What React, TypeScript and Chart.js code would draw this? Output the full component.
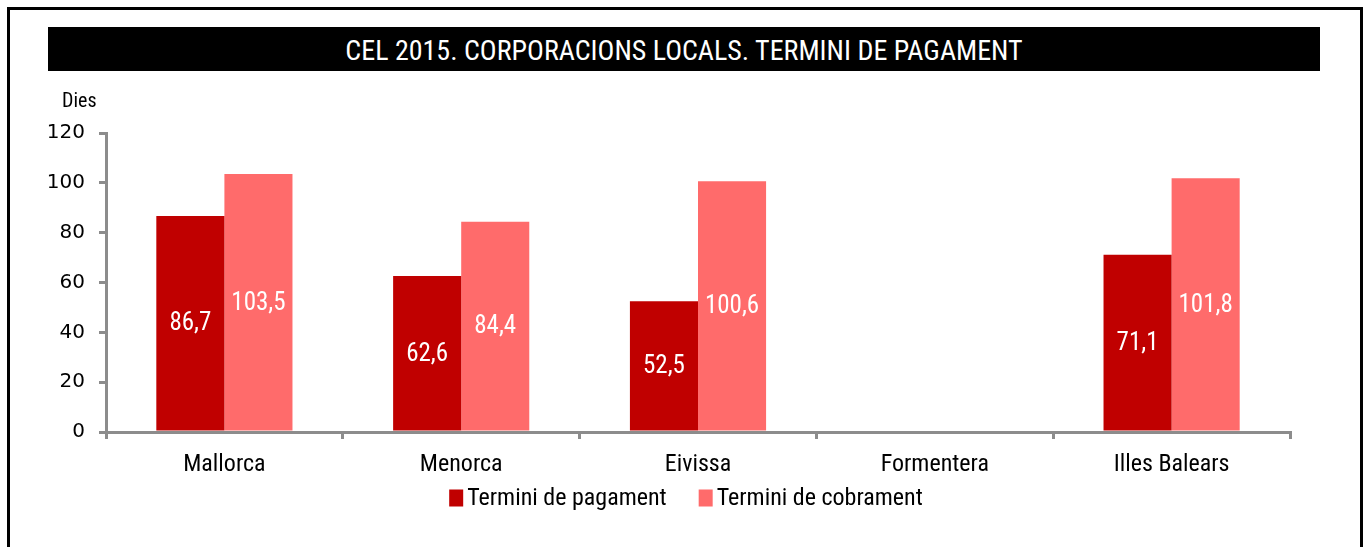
import React, { useEffect, useRef } from "react";
import { Chart, registerables } from "chart.js";

Chart.register(...registerables);

const categories = ["Mallorca", "Menorca", "Eivissa", "Formentera", "Illes Balears"];
const seriesNames = ["Termini de pagament", "Termini de cobrament"];
const pagament = [86.7, 62.6, 52.5, null, 71.1];
const cobrament = [103.5, 84.4, 100.6, null, 101.8];
const yTicks = [0, 20, 40, 60, 80, 100, 120];
const titleText = "CEL 2015. CORPORACIONS LOCALS. TERMINI DE PAGAMENT";
const yAxisTitle = "Dies";

const DARK = "#C00000";
const LIGHT = "#FF6B6B";
const AXIS = "#8C8C8C";
const NARROW = '"Liberation Sans Narrow", "Arial Narrow", "Roboto Condensed", sans-serif';

const valueLabels = {
  id: "valueLabels",
  afterDatasetsDraw(chart: any) {
    const ctx = chart.ctx;
    ctx.save();
    ctx.fillStyle = "#FFFFFF";
    ctx.font = `25px ${NARROW}`;
    ctx.textAlign = "center";
    ctx.textBaseline = "middle";
    chart.data.datasets.forEach((ds: any, di: number) => {
      const meta = chart.getDatasetMeta(di);
      meta.data.forEach((el: any, i: number) => {
        const v = ds.data[i];
        if (v === null || v === undefined) return;
        const { x, y, base } = el.getProps(["x", "y", "base"], true);
        ctx.fillText(v.toFixed(1).replace(".", ","), x, (y + base) / 2 + 1);
      });
    });
    ctx.restore();
  },
};

const customLegend = {
  id: "customLegend",
  afterDraw(chart: any) {
    const ctx = chart.ctx;
    ctx.save();
    ctx.font = `24px ${NARROW}`;
    ctx.textBaseline = "middle";
    ctx.textAlign = "left";
    const boxW = 14;
    const boxH = 17;
    const gapBox = 4;
    const gapItem = 32;
    const items = chart.data.datasets.map((ds: any) => ({
      label: ds.label,
      color: ds.backgroundColor,
      w: boxW + gapBox + ctx.measureText(ds.label).width,
    }));
    const total = items.reduce((s: number, it: any) => s + it.w, 0) + gapItem * (items.length - 1);
    let x = 686 - total / 2;
    const cy = 498;
    items.forEach((it: any) => {
      ctx.fillStyle = it.color;
      ctx.fillRect(x, cy - boxH / 2, boxW, boxH);
      ctx.fillStyle = "#000000";
      ctx.fillText(it.label, x + boxW + gapBox, cy + 1);
      x += it.w + gapItem;
    });
    ctx.restore();
  },
};

export default function App() {
  const canvasRef = useRef<HTMLCanvasElement | null>(null);

  useEffect(() => {
    document.body.style.margin = "0";
    const canvas = canvasRef.current;
    if (!canvas) return;
    const chart = new Chart(canvas, {
      type: "bar",
      data: {
        labels: categories,
        datasets: [
          {
            label: seriesNames[0],
            data: pagament,
            backgroundColor: DARK,
            borderWidth: 0,
          },
          {
            label: seriesNames[1],
            data: cobrament,
            backgroundColor: LIGHT,
            borderWidth: 0,
          },
        ],
      },
      options: {
        animation: false,
        responsive: false,
        maintainAspectRatio: false,
        layout: { padding: { left: 0, right: 76, top: 133, bottom: 0 } },
        datasets: {
          bar: { categoryPercentage: 0.575, barPercentage: 1.0 },
        },
        plugins: {
          legend: { display: false },
          tooltip: { enabled: false },
          title: { display: false },
        },
        scales: {
          x: {
            grid: {
              offset: true,
              drawOnChartArea: false,
              drawTicks: true,
              tickLength: 7,
              color: AXIS,
              lineWidth: 3,
            },
            border: { color: AXIS, width: 3 },
            ticks: {
              color: "#000000",
              font: { family: NARROW, size: 24 },
              padding: 12,
            },
            afterFit(scale: any) {
              scale.height = 547 - 432;
            },
          },
          y: {
            min: 0,
            max: 120,
            afterBuildTicks(scale: any) {
              scale.ticks = yTicks.map((v) => ({ value: v }));
            },
            grid: {
              drawOnChartArea: false,
              drawTicks: true,
              tickLength: 7,
              color: AXIS,
              lineWidth: 3,
            },
            border: { color: AXIS, width: 3 },
            ticks: {
              color: "#000000",
              font: { family: '"DejaVu Sans", sans-serif', size: 20 },
              padding: 14,
            },
            afterFit(scale: any) {
              scale.width = 106;
            },
          },
        },
      },
      plugins: [valueLabels, customLegend],
    });
    return () => chart.destroy();
  }, []);

  return (
    <div style={{ position: "relative", width: 1366, height: 547, overflow: "hidden", background: "#fff" }}>
      <canvas ref={canvasRef} width={1366} height={547} style={{ position: "absolute", left: 0, top: 0 }} />
      <div
        style={{
          position: "absolute",
          left: 7,
          top: 7,
          width: 1350,
          height: 600,
          border: "3px solid #000",
          pointerEvents: "none",
        }}
      />
      <div
        style={{
          position: "absolute",
          left: 48,
          top: 27,
          width: 1272,
          height: 44,
          background: "#000",
          color: "#fff",
          fontFamily: NARROW,
          fontSize: 28,
          lineHeight: "48px",
          textAlign: "center",
          whiteSpace: "nowrap",
        }}
      >
        {titleText}
      </div>
      <div
        style={{
          position: "absolute",
          left: 62,
          top: 88,
          color: "#000",
          fontFamily: NARROW,
          fontSize: 20,
          lineHeight: "24px",
        }}
      >
        {yAxisTitle}
      </div>
    </div>
  );
}
